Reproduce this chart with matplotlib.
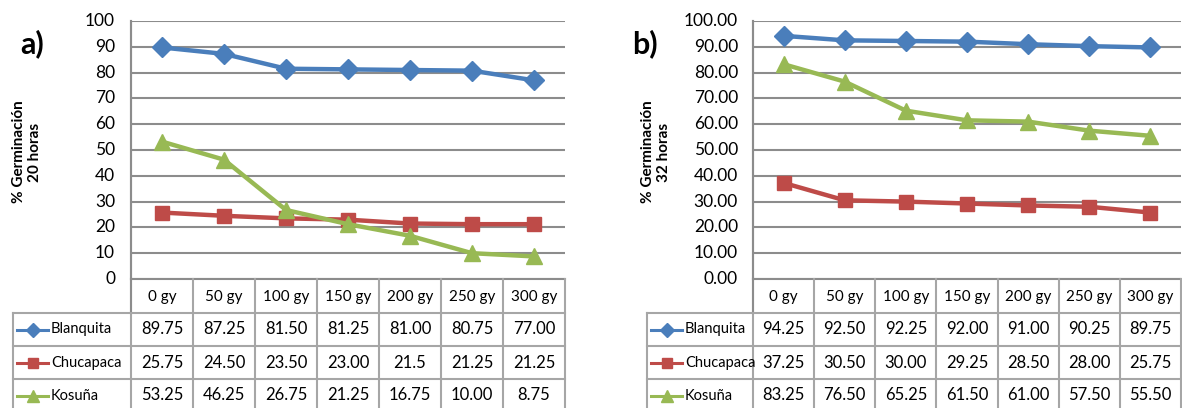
import matplotlib
matplotlib.use("Agg")
import matplotlib.pyplot as plt
import numpy as np

plt.rcParams['font.family'] = ['Lato', 'DejaVu Sans']

doses = ['0 gy', '50 gy', '100 gy', '150 gy', '200 gy', '250 gy', '300 gy']
varieties = ['Blanquita', 'Chucapaca', 'Kosuña']

# table text for each panel (values plotted from the same strings)
blanquita_20 = ['89.75', '87.25', '81.50', '81.25', '81.00', '80.75', '77.00']
chucapaca_20 = ['25.75', '24.50', '23.50', '23.00', '21.5', '21.25', '21.25']
kosuna_20 = ['53.25', '46.25', '26.75', '21.25', '16.75', '10.00', '8.75']

blanquita_32 = ['94.25', '92.50', '92.25', '92.00', '91.00', '90.25', '89.75']
chucapaca_32 = ['37.25', '30.50', '30.00', '29.25', '28.50', '28.00', '25.75']
kosuna_32 = ['83.25', '76.50', '65.25', '61.50', '61.00', '57.50', '55.50']

colors = ['#4A7EBB', '#BE4B48', '#98B954']
markers = ['D', 's', '^']
msizes = [10, 9.5, 11]
leg_ms = [7.5, 7, 8]
grid_col = '#8C8C8C'
tab_col = '#A6A6A6'

W, H = 1182, 408
fig = plt.figure(figsize=(W / 100, H / 100), dpi=100)

# overlay in pixel coordinates for tables and labels
ov = fig.add_axes([0, 0, 1, 1], zorder=5)
ov.set_xlim(0, W)
ov.set_ylim(H, 0)
ov.axis('off')
ov.patch.set_alpha(0)


def panel(left, right, leg_left, series, tickfmt, tick_right, ylab, ylab_x, tag, tag_x):
    top, bottom = 21, 279
    ax = fig.add_axes([left / W, (H - bottom) / H, (right - left) / W, (bottom - top) / H])
    x = np.arange(len(doses))
    for vals, c, m, ms in zip(series, colors, markers, msizes):
        ax.plot(x, np.array(vals, dtype=float), color=c, lw=3.2, marker=m, ms=ms,
                markeredgecolor=c, solid_capstyle='round', clip_on=False, zorder=3)
    ax.set_xlim(-0.5, len(doses) - 0.5)
    ax.set_ylim(0, 100)
    ax.set_yticks(np.arange(0, 101, 10))
    ax.set_yticklabels([])
    ax.set_xticks([])
    ax.grid(axis='y', color=grid_col, lw=1.5)
    ax.set_axisbelow(True)
    for s in ['top', 'right']:
        ax.spines[s].set_visible(False)
    ax.spines['left'].set_color(grid_col)
    ax.spines['left'].set_linewidth(1.5)
    ax.spines['bottom'].set_color(grid_col)
    ax.spines['bottom'].set_linewidth(1.5)
    ax.tick_params(length=0)

    # y tick labels
    for t in np.arange(0, 101, 10):
        py = bottom - (bottom - top) * t / 100
        ov.text(tick_right, py, tickfmt.format(t), ha='right', va='center', fontsize=12.5)

    ov.text(ylab_x, 152, '% Germinación\n' + ylab, rotation=90, ha='center', va='center',
            fontsize=11, fontweight='bold', linespacing=1.25)
    ov.text(tag_x, 44, tag, ha='left', va='center', fontsize=22, fontweight='bold')

    # data table below the plot
    cw = (right - left) / len(doses)
    rows = [279, 313, 346, 379, 412]
    for k in range(len(doses) + 1):
        ov.plot([left + k * cw] * 2, [279, H + 5], color=tab_col, lw=1.5, clip_on=False)
    ov.plot([left, left], [21, 313], color=grid_col, lw=1.5)
    ov.plot([leg_left] * 2, [313, H + 5], color=tab_col, lw=1.5, clip_on=False)
    for r in rows[1:4]:
        ov.plot([leg_left, right], [r, r], color=tab_col, lw=1.5)
    for k, d in enumerate(doses):
        ov.text(left + (k + 0.5) * cw, 297, d, ha='center', va='center', fontsize=11)
    for i, (name, vals) in enumerate(zip(varieties, series)):
        yc = (rows[i + 1] + rows[i + 2]) / 2
        ov.plot([leg_left + 4, leg_left + 35], [yc, yc], color=colors[i], lw=2.2)
        ov.plot([leg_left + 19.5], [yc], color=colors[i], marker=markers[i], ms=leg_ms[i],
                markeredgecolor=colors[i])
        ov.text(leg_left + 38, yc, name, ha='left', va='center', fontsize=10.5)
        for k, v in enumerate(vals):
            ov.text(left + (k + 0.5) * cw, yc, v, ha='center', va='center', fontsize=12)


panel(131, 565, 13, [blanquita_20, chucapaca_20, kosuna_20], '{:d}', 115,
      '20 horas', 27, 'a)', 20)
panel(753, 1181, 647, [blanquita_32, chucapaca_32, kosuna_32], '{:.2f}', 738,
      '32 horas', 656, 'b)', 632)

fig.savefig('out.png', dpi=100)
